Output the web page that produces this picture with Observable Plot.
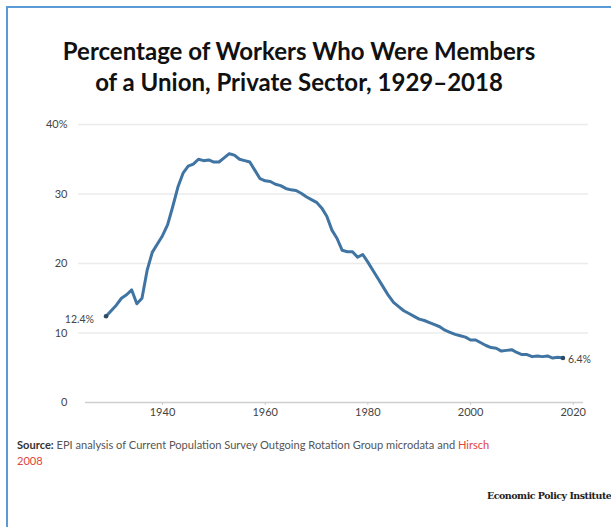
<!DOCTYPE html>
<html>
<head>
<meta charset="utf-8">
<script src="https://cdn.jsdelivr.net/npm/d3@7"></script>
<script src="https://cdn.jsdelivr.net/npm/@observablehq/plot@0.6"></script>
<style>
  html { overflow: hidden; }
  html, body { margin: 0; padding: 0; background: #fff; border: 0; }
  body { width: 611px; height: 527px; position: relative; overflow: hidden; font-family: Lato, "Open Sans", sans-serif; }
  #frame { position: absolute; left: 6px; top: 6px; width: 605px; height: 521px; border-left: 2px solid #5b9bd5; border-top: 2px solid #5b9bd5; box-sizing: border-box; }
  #title { position: absolute; left: 0; top: 35px; width: 598px; text-align: center; font-family: Lato, sans-serif; font-weight: 700; font-size: 24px; line-height: 31px; color: #111; }
  #chart { position: absolute; left: 0; top: 110px; }
  .src { position: absolute; left: 17px; white-space: nowrap; font-size: 11.1px; line-height: 16px; color: #555; }
  #src1 { top: 437px; }
  #src2 { top: 453px; }
  .src b { color: #333; }
  .src .red { color: #e0453c; }
  #brand { position: absolute; left: 487px; top: 490px; white-space: nowrap; font-family: "DejaVu Serif", "Liberation Serif", serif; font-weight: 700; font-size: 9.5px; color: #222; letter-spacing: -0.5px; }
</style>
</head>
<body>
<div id="frame"></div>
<div id="title">Percentage of Workers Who Were Members<br>of a Union, Private Sector, 1929–2018</div>
<div id="chart"></div>
<div class="src" id="src1"><b>Source:</b> EPI analysis of Current Population Survey Outgoing Rotation Group microdata and <span class="red">Hirsch</span></div>
<div class="src" id="src2"><span class="red">2008</span></div>
<div id="brand">Economic Policy Institute</div>
<script>
const years = d3.range(1929, 2019);
const shares = [
  12.4, 13.2, 14.0, 15.0, 15.5, 16.2, 14.2, 15.0, 19.0, 21.6,
  22.8, 24.0, 25.6, 28.2, 31.0, 33.0, 34.0, 34.3, 35.0, 34.8,
  34.9, 34.6, 34.6, 35.2, 35.8, 35.6, 35.0, 34.8, 34.6, 33.4,
  32.2, 31.9, 31.8, 31.4, 31.2, 30.8, 30.6, 30.5, 30.1, 29.6,
  29.2, 28.8, 28.0, 26.8, 24.8, 23.6, 21.9, 21.7, 21.7, 20.9,
  21.3, 20.2, 19.0, 17.8, 16.6, 15.4, 14.4, 13.8, 13.2, 12.8,
  12.4, 12.0, 11.8, 11.5, 11.2, 10.9, 10.4, 10.1, 9.8, 9.6,
  9.4, 9.0, 9.0, 8.6, 8.2, 7.9, 7.8, 7.4, 7.5, 7.6,
  7.2, 6.9, 6.9, 6.6, 6.7, 6.6, 6.7, 6.4, 6.5, 6.4
];
const yTicks = [0, 10, 20, 30, 40];
const xTicks = [1940, 1960, 1980, 2000, 2020];

const data = years.map((y, i) => ({year: y, share: shares[i]}));
const ends = [data[0], data[data.length - 1]];

const chart = Plot.plot({
  width: 611,
  height: 320,
  marginLeft: 85,
  marginRight: 28,
  marginTop: 14,
  marginBottom: 28,
  style: {fontFamily: "Lato, sans-serif", fontSize: "11px", color: "#444", background: "transparent"},
  x: {domain: [1925, 2022], label: null},
  y: {domain: [0, 40], label: null},
  marks: [
    Plot.ruleY(yTicks.filter(d => d > 0), {stroke: "#ebebeb", strokeWidth: 1.5, insetLeft: -7, insetRight: -5}),
    Plot.ruleY([0], {stroke: "#cfcfcf", strokeWidth: 1.5}),
    Plot.axisY({ticks: yTicks, tickSize: 0, tickPadding: 18, tickFormat: d => d === 40 ? "40%" : String(d), fill: "#444", fontSize: 11}),
    Plot.axisX({ticks: xTicks, tickSize: 3, tickPadding: 3, tickFormat: d => String(d), stroke: "#ccc", fill: "#444", fontSize: 11}),
    Plot.line(data, {x: "year", y: "share", stroke: "#3f74a3", strokeWidth: 3, curve: "linear", strokeLinejoin: "round"}),
    Plot.dot(ends, {x: "year", y: "share", r: 2.3, fill: "#2e4a62"}),
    Plot.text([ends[0]], {x: "year", y: "share", text: d => d.share.toFixed(1) + "%", textAnchor: "end", dx: -12, dy: 3, fill: "#444", fontSize: 10.5}),
    Plot.text([ends[1]], {x: "year", y: "share", text: d => d.share.toFixed(1) + "%", textAnchor: "start", dx: 5, dy: 2, fill: "#444", fontSize: 10.5})
  ]
});
document.getElementById("chart").appendChild(chart);
</script>
</body>
</html>
